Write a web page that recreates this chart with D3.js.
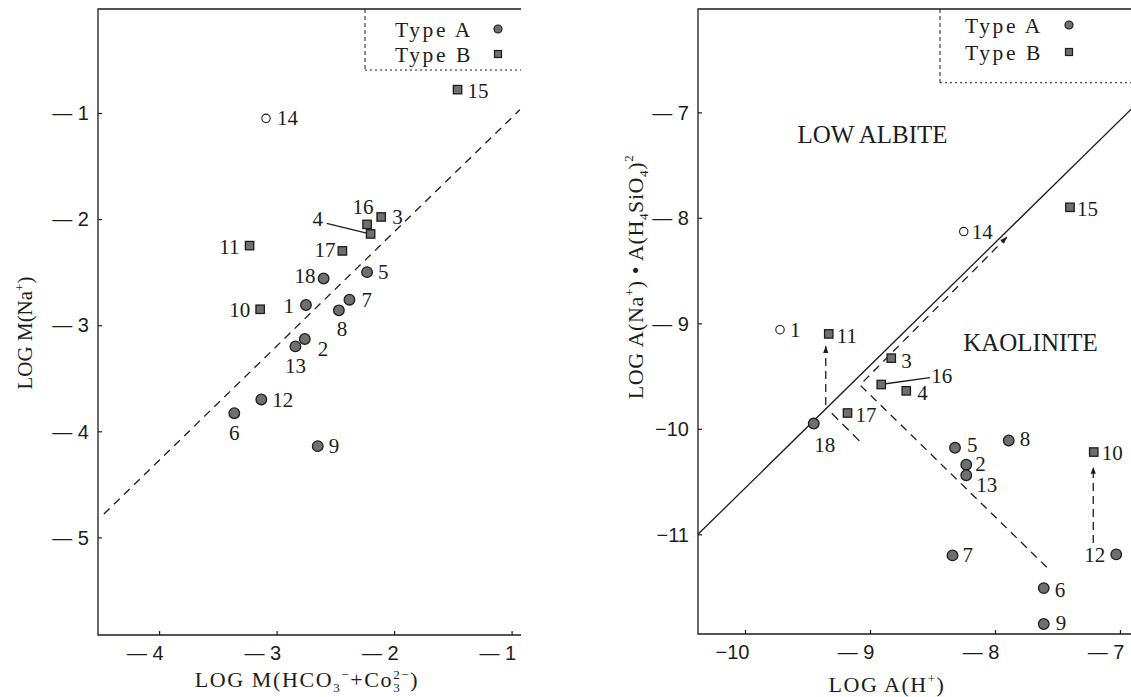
<!DOCTYPE html>
<html>
<head>
<meta charset="utf-8">
<script src="https://cdn.jsdelivr.net/npm/d3@7"></script>
<style>
  html, body { margin: 0; padding: 0; background: #fff; }
  svg { display: block; font-family: "Liberation Serif", "Times New Roman", serif; }
</style>
</head>
<body>
<svg id="chart" width="1131" height="697"></svg>
<script>
// ---------- data ----------
// sample numbers 1..18
const sampleIds = d3.range(1, 19);
// water type per sample: A = filled circle, B = filled square, O = open circle
const sampleType = ["A","A","B","B","A","A","A","A","A","B","B","A","A","O","B","B","B","A"];
// samples drawn as open circles in the stability diagram
const openInActivityPlot = [1, 14];

// left plot: log molality of carbonate species vs log molality of Na+
const logCarbonate = [-2.75, -2.76, -2.11, -2.20, -2.23, -3.36, -2.38, -2.47, -2.65,
                      -3.14, -3.23, -3.13, -2.84, -3.09, -1.46, -2.23, -2.44, -2.60];
const logSodium    = [-2.81, -3.13, -1.98, -2.14, -2.50, -3.83, -2.76, -2.86, -4.14,
                      -2.85, -2.25, -3.70, -3.20, -1.05, -0.78, -2.05, -2.30, -2.56];
// dashed trend line (end points)
const trendX = [-4.47, -0.93];
const trendY = [-4.78, -0.97];
// leader from label "4" to its square
const leader4X = [-2.574, -2.225];
const leader4Y = [-2.040, -2.134];

// right plot: log a(H+) vs log a(Na+)·a(H4SiO4)^2
const logHydrogen = [-9.72, -8.23, -8.83, -8.71, -8.32, -7.61, -8.34, -7.89, -7.61,
                     -7.21, -9.33, -7.03, -8.23, -8.25, -7.40, -8.91, -9.18, -9.45];
const logActivity = [-9.06, -10.34, -9.33, -9.64, -10.18, -11.51, -11.20, -10.11, -11.85,
                     -10.22, -9.10, -11.19, -10.44, -8.13, -7.90, -9.58, -9.85, -9.95];
// low albite / kaolinite boundary
const boundaryX = [-10.376, -6.84];
const boundaryY = [-11.0, -6.888];
// dashed evolution path with arrow
const pathX = [-7.586, -9.080, -7.904];
const pathY = [-11.312, -9.584, -8.181];
// short dashed segment near 17/18
const shortX = [-9.306, -9.066];
const shortY = [-9.853, -10.137];
// arrows 18 -> 11 and 12 -> 10
const arrow11X = [-9.354, -9.354];
const arrow11Y = [-9.774, -9.215];
const arrow10X = [-7.214, -7.214];
const arrow10Y = [-11.082, -10.359];
// leader from label "16"
const leader16X = [-8.888, -8.520];
const leader16Y = [-9.575, -9.515];

// tick values
const ticksCarbonate = [-4, -3, -2, -1];
const ticksSodium = [-1, -2, -3, -4, -5];
const ticksHydrogen = [-10, -9, -8, -7];
const ticksActivity = [-7, -8, -9, -10, -11];

// field names
const fieldNames = ["LOW ALBITE", "KAOLINITE"];
const fieldX = [-8.98, -7.716];
const fieldY = [-7.287, -9.262];

const legendNames = ["Type A", "Type B"];

// ---------- layout ----------
const svg = d3.select("#chart");
const ink = "#1c1c1c";
const markFill = "#6f6f6f";

const xL = d3.scaleLinear().domain([-4.52, -0.92]).range([98, 521]);
const yL = d3.scaleLinear().domain([-0.02, -5.92]).range([9, 635]);
const xR = d3.scaleLinear().domain([-10.376, -6.84]).range([698, 1140]);
const yR = d3.scaleLinear().domain([-6.02, -11.945]).range([9, 634]);

// label placement relative to each mark: [dx, dy, anchor]
const labelLeft = {
  1: [-12, 8, "end"], 2: [13, 17, "start"], 3: [11, 7, "start"], 4: [-58, -8, "start"],
  5: [11, 7, "start"], 6: [0, 27, "middle"], 7: [12, 7, "start"], 8: [3, 26, "middle"],
  9: [11, 7, "start"], 10: [-10, 8, "end"], 11: [-10, 8, "end"], 12: [11, 8, "start"],
  13: [0, 27, "middle"], 14: [11, 7, "start"], 15: [10, 8, "start"], 16: [-4, -10, "middle"],
  17: [-7, 6, "end"], 18: [-8, 5, "end"]
};
const labelRight = {
  1: [10, 7, "start"], 2: [9, 6, "start"], 3: [10, 10, "start"], 4: [11, 9, "start"],
  5: [12, 4, "start"], 6: [11, 9, "start"], 7: [10, 7, "start"], 8: [11, 6, "start"],
  9: [12, 6, "start"], 10: [8, 8, "start"], 11: [8, 9, "start"], 12: [-11, 8, "end"],
  13: [10, 17, "start"], 14: [8, 7, "start"], 15: [7, 9, "start"], 16: [50, -2, "start"],
  17: [8, 9, "start"], 18: [11, 28, "middle"]
};

// arrowhead
const defs = svg.append("defs");
defs.append("marker")
  .attr("id", "head")
  .attr("viewBox", "-8 -4 9 8")
  .attr("refX", 0).attr("refY", 0)
  .attr("markerWidth", 9).attr("markerHeight", 8)
  .attr("markerUnits", "userSpaceOnUse")
  .attr("orient", "auto")
  .append("path")
  .attr("d", "M0,0 L-7,-2.6 L-7,2.6 Z")
  .attr("fill", ink);

const tickText = v => (Math.abs(v) >= 10 ? "\u2212" + Math.abs(v) : "\u2014 " + Math.abs(v));

function drawAxes(g, x, y, tx, ty, withRight) {
  const [x0, x1] = x.range();
  const [y0, y1] = y.range();
  g.append("path")
    .attr("d", withRight
      ? `M${x0},${y1} L${x0},${y0} L${x1},${y0} L${x1},${y1} Z`
      : `M${x1},${y0} L${x0},${y0} L${x0},${y1} L${x1},${y1}`)
    .attr("fill", "none").attr("stroke", ink).attr("stroke-width", 1.3);

  const bx = g.append("g").attr("transform", `translate(0,${y1})`)
    .call(d3.axisBottom(x).tickValues(tx).tickSize(-4).tickSizeOuter(0).tickFormat(tickText));
  bx.select(".domain").remove();
  bx.selectAll("line").attr("stroke", ink).attr("stroke-width", 1.2);
  bx.selectAll("text")
    .attr("text-anchor", "end").attr("x", 4).attr("y", 25).attr("dy", null)
    .attr("font-size", 20).attr("fill", ink);

  const ly = g.append("g").attr("transform", `translate(${x0},0)`)
    .call(d3.axisLeft(y).tickValues(ty).tickSize(-4).tickSizeOuter(0).tickFormat(tickText));
  ly.select(".domain").remove();
  ly.selectAll("line").attr("stroke", ink).attr("stroke-width", 1.2);
  ly.selectAll("text")
    .attr("text-anchor", "end").attr("x", -9).attr("dy", "0.34em")
    .attr("font-size", 20).attr("fill", ink);
}

function drawMarks(g, x, y, xs, ys, kindOf, labels) {
  sampleIds.forEach((id, i) => {
    const px = x(xs[i]), py = y(ys[i]);
    const kind = kindOf(id, i);
    if (kind === "A") {
      g.append("circle").attr("cx", px).attr("cy", py).attr("r", 5.3)
        .attr("fill", markFill).attr("stroke", ink).attr("stroke-width", 1.3);
    } else if (kind === "B") {
      g.append("rect").attr("x", px - 4.2).attr("y", py - 4.2).attr("width", 8.4).attr("height", 8.4)
        .attr("fill", markFill).attr("stroke", ink).attr("stroke-width", 1.3);
    } else {
      g.append("circle").attr("cx", px).attr("cy", py).attr("r", 4.2)
        .attr("fill", "#fff").attr("stroke", ink).attr("stroke-width", 1.1);
    }
    const [dx, dy, anchor] = labels[id];
    g.append("text").attr("x", px + dx).attr("y", py + dy)
      .attr("text-anchor", anchor).attr("font-size", 21).attr("fill", ink)
      .text(id);
  });
}

function drawLegend(g, left, bottom, right, textX, rows, markX) {
  g.append("line").attr("x1", left).attr("x2", left).attr("y1", 9).attr("y2", bottom)
    .attr("stroke", ink).attr("stroke-width", 1).attr("stroke-dasharray", "4,3");
  g.append("line").attr("x1", left).attr("x2", right).attr("y1", bottom).attr("y2", bottom)
    .attr("stroke", ink).attr("stroke-width", 1).attr("stroke-dasharray", "2,3");
  legendNames.forEach((name, i) => {
    g.append("text").attr("x", textX).attr("y", rows[i])
      .attr("font-size", 21.5).attr("letter-spacing", 2.6).attr("fill", ink).text(name);
    const my = rows[i] - 8;
    if (i === 0) {
      g.append("circle").attr("cx", markX).attr("cy", my).attr("r", 4)
        .attr("fill", markFill).attr("stroke", ink).attr("stroke-width", 1.2);
    } else {
      g.append("rect").attr("x", markX - 3.5).attr("y", my - 3.5).attr("width", 7).attr("height", 7)
        .attr("fill", markFill).attr("stroke", ink).attr("stroke-width", 1.2);
    }
  });
}

const line = (x, y) => d3.line().x(d => x(d[0])).y(d => y(d[1]));

// ---------- left plot ----------
const gL = svg.append("g");
drawAxes(gL, xL, yL, ticksCarbonate, ticksSodium, false);
drawLegend(gL, 365, 70, 521, 395, [37, 62], 498);

gL.append("path")
  .attr("d", line(xL, yL)(d3.zip(trendX, trendY)))
  .attr("fill", "none").attr("stroke", ink).attr("stroke-width", 1.3)
  .attr("stroke-dasharray", "8,6");
gL.append("path")
  .attr("d", line(xL, yL)(d3.zip(leader4X, leader4Y)))
  .attr("fill", "none").attr("stroke", ink).attr("stroke-width", 1.3);

drawMarks(gL, xL, yL, logCarbonate, logSodium,
  (id, i) => sampleType[i], labelLeft);

// axis titles
gL.append("text")
  .attr("transform", "translate(32,333) rotate(-90)")
  .attr("text-anchor", "middle").attr("font-size", 21).attr("fill", ink)
  .call(t => {
    t.append("tspan").text("LOG M(Na");
    t.append("tspan").attr("font-size", 13).attr("dy", -8).text("+");
    t.append("tspan").attr("dy", 8).text(")");
  });

gL.append("text")
  .attr("x", 307).attr("y", 687)
  .attr("text-anchor", "middle").attr("font-size", 22).attr("letter-spacing", 1.6).attr("fill", ink)
  .call(t => {
    t.append("tspan").text("LOG M(HCO");
    t.append("tspan").attr("font-size", 13).attr("dy", 5).text("3");
    t.append("tspan").attr("font-size", 13).attr("dy", -13).text("\u2212");
    t.append("tspan").attr("dy", 8).text("+Co");
    t.append("tspan").attr("font-size", 13).attr("dy", 5).text("3");
    t.append("tspan").attr("font-size", 13).attr("dx", -8).attr("dy", -13).text("2\u2212");
    t.append("tspan").attr("dy", 8).text(")");
  });

// ---------- right plot ----------
const gR = svg.append("g");
drawAxes(gR, xR, yR, ticksHydrogen, ticksActivity, true);
drawLegend(gR, 940, 82.7, 1140, 965, [33, 60], 1069);

gR.append("path")
  .attr("d", line(xR, yR)(d3.zip(boundaryX, boundaryY)))
  .attr("fill", "none").attr("stroke", ink).attr("stroke-width", 1.3);

gR.append("path")
  .attr("d", line(xR, yR)(d3.zip(pathX, pathY)))
  .attr("fill", "none").attr("stroke", ink).attr("stroke-width", 1.3)
  .attr("stroke-dasharray", "8,6").attr("marker-end", "url(#head)");

gR.append("path")
  .attr("d", line(xR, yR)(d3.zip(shortX, shortY)))
  .attr("fill", "none").attr("stroke", ink).attr("stroke-width", 1.3)
  .attr("stroke-dasharray", "9,6");

[[arrow11X, arrow11Y], [arrow10X, arrow10Y]].forEach(([ax, ay]) => {
  gR.append("path")
    .attr("d", line(xR, yR)(d3.zip(ax, ay)))
    .attr("fill", "none").attr("stroke", ink).attr("stroke-width", 1.3)
    .attr("stroke-dasharray", "8,5").attr("marker-end", "url(#head)");
});

gR.append("path")
  .attr("d", line(xR, yR)(d3.zip(leader16X, leader16Y)))
  .attr("fill", "none").attr("stroke", ink).attr("stroke-width", 1.3);

drawMarks(gR, xR, yR, logHydrogen, logActivity,
  (id, i) => (openInActivityPlot.includes(id) ? "O" : sampleType[i]), labelRight);

fieldNames.forEach((name, i) => {
  gR.append("text").attr("x", xR(fieldX[i])).attr("y", yR(fieldY[i]))
    .attr("text-anchor", "middle").attr("font-size", 25).attr("fill", ink).text(name);
});

gR.append("text")
  .attr("x", 887).attr("y", 692)
  .attr("text-anchor", "middle").attr("font-size", 22).attr("letter-spacing", 1.5).attr("fill", ink)
  .call(t => {
    t.append("tspan").text("LOG A(H");
    t.append("tspan").attr("font-size", 13).attr("dy", -9).text("+");
    t.append("tspan").attr("dy", 9).text(")");
  });

gR.append("text")
  .attr("transform", "translate(643,277) rotate(-90)")
  .attr("text-anchor", "middle").attr("font-size", 22).attr("letter-spacing", 0.6).attr("fill", ink)
  .call(t => {
    t.append("tspan").text("LOG A(Na");
    t.append("tspan").attr("font-size", 13).attr("dy", -9).text("+");
    t.append("tspan").attr("dy", 9).text(") \u2022 A(H");
    t.append("tspan").attr("font-size", 13).attr("dy", 5).text("4");
    t.append("tspan").attr("dy", -5).text("SiO");
    t.append("tspan").attr("font-size", 13).attr("dy", 5).text("4");
    t.append("tspan").attr("dy", -5).text(")");
    t.append("tspan").attr("font-size", 13).attr("dy", -10).text("2");
  });
</script>
</body>
</html>
